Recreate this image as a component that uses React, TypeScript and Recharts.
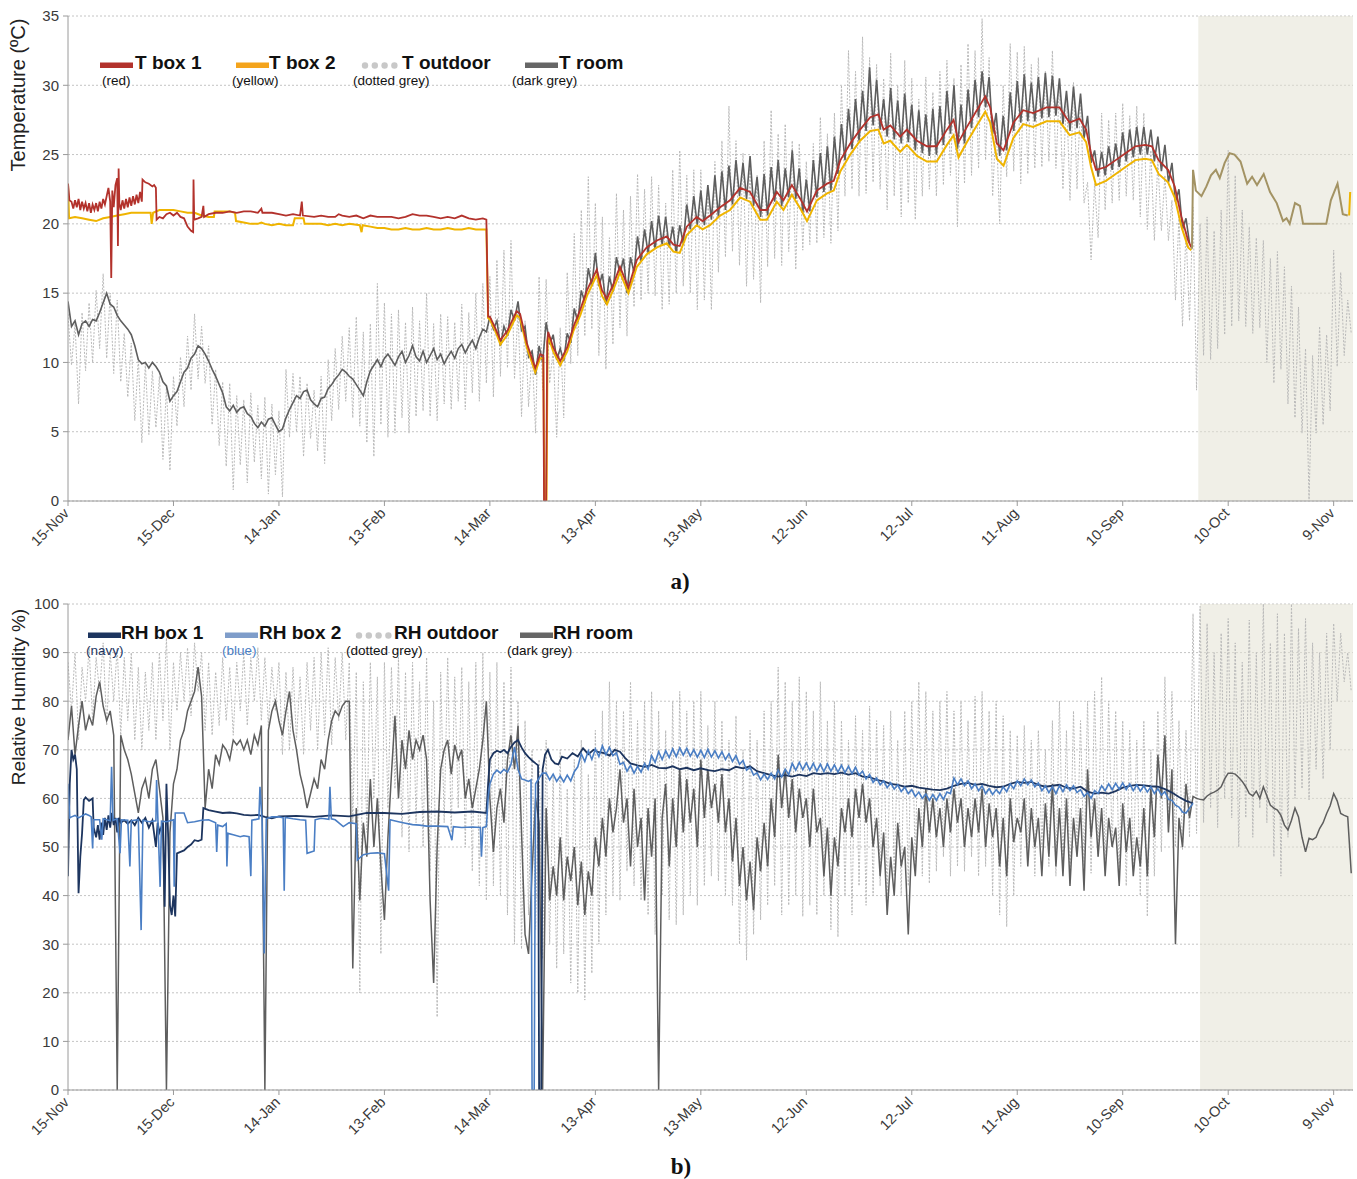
import React from 'react';
import { ComposedChart, Line, Area, XAxis, YAxis, CartesianGrid } from 'recharts';

const FONT = '"Liberation Sans", Arial, sans-serif';

// ---------- axes ----------
const xTickDays = [0, 30, 60, 90, 120, 150, 180, 210, 240, 270, 300, 330, 360];
const xTickLabels = ['15-Nov', '15-Dec', '14-Jan', '13-Feb', '14-Mar', '13-Apr', '13-May', '12-Jun', '12-Jul', '11-Aug', '10-Sep', '10-Oct', '9-Nov'];
const tTicks = [0, 5, 10, 15, 20, 25, 30, 35];
const rhTicks = [0, 10, 20, 30, 40, 50, 60, 70, 80, 90, 100];
const shadedStartT = 321.5;
const shadedStartRH = 322;
const lastDay = 365.5;

// ---------- temperature (days since 15-Nov) ----------
// T outdoor, one value per day starting day 0
const tOutdoor = [
  13.5, 9.8, 12.8, 7.0, 13.6, 9.4, 14.3, 10.0, 15.2, 11.0,
  16.4, 10.3, 15.0, 9.2, 14.5, 8.6, 12.1, 7.5, 11.4, 5.8,
  10.3, 4.2, 9.9, 4.8, 9.4, 5.3, 9.0, 3.0, 8.2, 2.2,
  9.0, 5.4, 10.4, 6.8, 11.9, 8.0, 13.5, 8.8, 12.6, 8.5,
  11.2, 5.5, 9.5, 4.0, 8.6, 2.5, 8.5, 0.8, 7.6, 2.6,
  7.3, 1.3, 7.8, 2.8, 6.9, 1.6, 7.5, 0.5, 7.0, 1.9,
  6.5, 0.3, 9.5, 4.6, 9.2, 5.0, 9.0, 3.2, 8.5, 4.5,
  8.0, 3.6, 9.0, 2.7, 10.2, 5.8, 11.0, 6.6, 11.9, 7.2,
  12.5, 6.0, 13.3, 5.4, 12.2, 4.2, 12.8, 3.2, 15.7, 5.5,
  14.3, 4.6, 13.5, 4.9, 13.8, 6.0, 12.9, 4.9, 14.0, 6.1,
  13.0, 6.5, 15.0, 6.1, 12.8, 5.8, 13.5, 7.0, 13.3, 6.6,
  12.9, 7.2, 14.2, 6.6, 13.6, 7.8, 15.0, 7.2, 15.7, 8.5,
  16.2, 7.5, 17.4, 9.0, 18.1, 9.6, 18.8, 8.8, 13.8, 6.1,
  13.0, 6.8, 10.9, 4.9, 16.2, 8.0, 16.0, 8.5, 10.9, 4.6,
  12.5, 6.0, 16.5, 9.9, 19.3, 10.5, 21.0, 11.9, 23.4, 12.4,
  21.5, 10.5, 20.5, 9.5, 19.0, 11.3, 22.2, 12.5, 21.0, 11.9,
  22.0, 14.0, 23.6, 14.5, 22.5, 15.0, 23.4, 14.8, 22.8, 13.8,
  21.5, 14.2, 23.9, 15.0, 25.3, 15.5, 23.5, 15.0, 23.9, 13.8,
  23.9, 14.5, 22.8, 13.8, 24.5, 16.5, 26.0, 17.6, 28.5, 18.0,
  26.0, 17.0, 25.1, 15.5, 24.0, 16.0, 23.5, 14.3, 26.0, 16.9,
  28.2, 17.5, 26.5, 17.0, 27.2, 18.0, 26.0, 16.7, 25.8, 18.1,
  24.5, 18.5, 25.8, 18.6, 27.7, 19.0, 26.5, 18.6, 28.0, 19.5,
  30.0, 22.0, 32.5, 22.5, 31.0, 22.0, 33.5, 22.2, 32.0, 23.0,
  31.5, 22.5, 30.5, 21.0, 32.3, 22.0, 30.0, 20.5, 31.8, 21.5,
  30.5, 20.3, 29.0, 22.0, 30.6, 22.5, 29.5, 22.0, 31.0, 22.8,
  31.8, 23.5, 30.5, 19.8, 31.5, 22.9, 33.0, 23.5, 32.5, 24.0,
  34.8, 24.6, 32.0, 22.0, 27.5, 20.0, 30.0, 23.4, 33.0, 23.8,
  32.4, 22.9, 32.8, 23.6, 31.5, 24.0, 32.0, 24.1, 31.0, 24.5,
  32.5, 24.0, 30.0, 22.5, 29.5, 21.7, 30.2, 22.5, 29.0, 21.5,
  23.0, 17.4, 22.9, 19.0, 28.0, 21.0, 27.5, 21.5, 28.0, 21.7,
  28.7, 22.0, 27.8, 21.7, 28.5, 20.5, 28.0, 19.6, 25.3, 18.8,
  24.5, 19.5, 23.5, 18.8, 21.7, 14.5, 20.5, 12.6, 19.5, 13.0,
  21.2, 8.0, 20.0, 10.5, 20.5, 10.2, 19.5, 11.0, 21.0, 12.0,
  25.3, 12.6, 23.5, 13.0, 21.0, 12.6, 19.8, 12.1, 19.0, 12.5,
  18.8, 10.0, 17.5, 8.5, 18.0, 9.5, 16.9, 7.0, 15.5, 6.0,
  14.0, 4.9, 11.0, 0.1, 10.5, 4.9, 12.6, 5.5, 12.0, 6.5,
  18.1, 9.7, 16.5, 10.5, 14.5, 12.1,
];

// T room, one value per day starting day 0
const tRoom = [
  14.4, 12.6, 13.0, 12.0, 12.8, 13.0, 12.6, 13.1, 13.0, 13.6,
  14.3, 15.0, 14.2, 14.0, 13.4, 13.0, 12.7, 12.4, 12.0, 11.2,
  10.2, 9.9, 10.0, 9.6, 10.0, 9.7, 9.3, 8.6, 8.3, 7.2,
  7.6, 7.9, 8.6, 9.3, 9.6, 10.3, 10.6, 11.2, 11.0, 10.6,
  10.1, 9.5, 9.0, 8.4, 7.8, 6.8, 6.5, 6.9, 6.4, 6.7,
  6.8, 6.3, 6.1, 5.6, 5.3, 5.7, 5.4, 5.9, 6.0, 5.5,
  5.0, 5.2, 6.0, 6.6, 7.1, 7.6, 7.4, 7.9, 8.0, 7.3,
  7.0, 6.8, 7.4, 7.5, 8.1, 8.4, 8.8, 9.1, 9.5, 9.3,
  9.0, 8.8, 8.4, 8.0, 7.6, 8.6, 9.4, 9.8, 10.2, 9.7,
  10.3, 10.6, 10.2, 9.8, 10.4, 10.8, 10.0, 10.5, 11.2, 10.4,
  10.1, 10.8, 10.0, 10.5, 11.0, 10.2, 10.6, 9.9, 10.4, 10.8,
  10.3, 11.0, 11.3, 10.7, 11.2, 11.6, 11.0, 11.8, 12.4, 12.2,
  13.3, 12.4, 13.0, 11.2, 12.6, 11.9, 13.8, 13.0, 14.4, 12.3,
  12.6, 10.4, 10.8, 9.1, 11.2, 10.0, 12.9, 11.3, 12.0, 10.2,
  11.0, 10.1, 12.1, 11.4, 13.9, 12.9, 15.2, 14.3, 16.8, 15.5,
  17.9, 15.5, 16.4, 14.2, 16.2, 15.1, 17.6, 16.4, 17.5, 15.0,
  17.6, 16.5, 19.1, 17.3, 19.6, 17.9, 20.2, 18.2, 20.6, 18.5,
  20.5, 18.3, 19.8, 17.9, 19.9, 18.6, 21.4, 19.6, 22.0, 19.9,
  22.4, 19.9, 22.8, 20.3, 23.5, 20.5, 23.8, 21.0, 24.2, 21.4,
  24.6, 22.0, 24.4, 21.8, 24.9, 21.3, 23.4, 20.5, 23.6, 20.6,
  24.1, 21.6, 24.6, 21.3, 24.0, 21.9, 25.3, 21.8, 24.0, 20.8,
  23.2, 20.9, 24.6, 21.9, 25.1, 22.3, 25.6, 22.4, 26.3, 23.6,
  27.2, 24.6, 28.3, 25.4, 29.0, 26.0, 29.6, 26.7, 31.3, 27.1,
  30.4, 26.8, 29.0, 26.3, 29.8, 26.1, 28.9, 25.8, 29.4, 25.9,
  28.6, 25.3, 28.2, 25.1, 27.9, 24.9, 28.3, 25.0, 28.5, 25.7,
  29.6, 26.5, 30.0, 25.4, 28.6, 25.8, 29.7, 26.9, 30.4, 27.7,
  31.0, 28.4, 30.6, 26.5, 28.0, 24.9, 27.8, 25.3, 29.5, 26.7,
  30.3, 27.3, 30.8, 27.4, 30.2, 27.4, 30.6, 27.6, 30.9, 27.7,
  30.7, 27.8, 30.5, 27.2, 29.6, 26.7, 29.9, 26.9, 29.4, 26.2,
  27.8, 24.4, 25.3, 23.4, 25.2, 23.5, 25.6, 23.9, 25.8, 24.1,
  26.6, 24.5, 26.8, 24.8, 27.0, 25.0, 27.0, 25.0, 26.8, 24.5,
  26.3, 23.8, 25.7, 23.0, 24.4, 21.6, 22.5, 19.6, 20.4, 18.6,
];

// T box 1 (red): [day, °C]
const tBox1 = [
  [0, 22.9], [0.4, 21.7], [1, 21.6], [1.5, 21.1], [2, 21.7], [2.5, 21.2], [3, 21.8], [3.5, 21.0], [4, 21.6], [4.5, 21.1],
  [5, 21.5], [5.5, 20.9], [6, 21.5], [6.5, 20.8], [7, 21.4], [7.5, 21.0], [8, 21.5], [8.5, 20.9], [9, 21.6], [9.5, 21.1],
  [10, 21.8], [10.5, 21.4], [11, 22.0], [11.5, 22.6], [12, 21.6], [12.3, 16.1], [12.6, 22.4], [13, 21.2], [13.5, 22.8],
  [14, 23.3], [14.2, 18.4], [14.4, 24.0], [14.6, 21.5], [15, 21.0], [15.5, 21.7], [16, 21.1], [16.5, 21.8], [17, 21.2],
  [17.5, 21.9], [18, 21.3], [18.5, 22.0], [19, 21.4], [19.5, 22.1], [20, 21.5], [20.5, 22.3], [21, 21.6], [21.2, 23.2],
  [22, 23.0], [23, 22.9], [24, 22.7], [24.5, 22.8], [25, 22.6], [25.2, 20.3], [26, 20.5], [27, 20.4], [28, 20.7],
  [29, 20.8], [30, 20.6], [31, 20.8], [32, 20.5], [33, 20.4], [34, 19.8], [35, 19.5], [35.6, 19.4], [35.7, 23.2],
  [35.9, 20.3], [37, 20.4], [38, 20.5], [38.5, 21.3], [38.7, 20.5], [40, 20.7], [42, 20.8], [44, 20.8], [46, 20.9],
  [48, 20.8], [50, 20.9], [52, 20.9], [54, 20.8], [55, 21.1], [55.3, 20.8], [58, 20.8], [60, 20.7], [62, 20.6],
  [64, 20.7], [66, 20.6], [66.5, 21.6], [66.8, 20.6], [70, 20.5], [72, 20.6], [74, 20.5], [76, 20.5], [77, 20.7],
  [78, 20.6], [80, 20.5], [82, 20.6], [84, 20.4], [86, 20.6], [88, 20.5], [90, 20.5], [92, 20.5], [94, 20.4],
  [96, 20.5], [98, 20.7], [100, 20.6], [102, 20.6], [104, 20.5], [106, 20.4], [108, 20.5], [110, 20.4], [112, 20.6],
  [114, 20.4], [116, 20.3], [118, 20.4], [119, 20.3], [119.5, 13.3],
  [120, 13.3], [121.5, 12.5], [123, 11.6], [125, 12.3], [127.6, 13.7], [128.6, 13.5], [130.5, 11.4], [132.9, 9.6],
  [134.3, 10.6], [135.2, 10.5], [135.4, 0], [136, 0], [136.3, 11.5], [136.6, 12.2], [138, 11.1], [140, 10.1],
  [142, 11.1], [143.8, 12.6], [145.7, 13.8], [147.6, 15.2], [150.4, 16.7], [151.9, 15.2], [153.3, 14.6], [155.2, 15.7],
  [157, 16.9], [159.4, 15.4], [161.8, 17.4], [164.6, 18.3], [167.5, 18.8], [170.3, 19.1], [172.2, 18.5], [174, 18.4],
  [176, 19.8], [178.8, 20.5], [180.5, 20.2], [182.6, 20.6], [185.5, 21.2], [188.3, 21.7], [191.2, 22.6], [194, 22.3],
  [196.9, 21.0], [198.8, 21.0], [201.6, 22.3], [203.5, 21.7], [205.9, 22.8], [208.3, 21.8], [210.2, 20.9], [213, 22.4],
  [215.9, 22.9], [217.8, 23.1], [219.7, 24.6], [222.5, 25.8], [225.3, 26.8], [228.2, 27.7], [230.5, 27.9], [232, 26.8],
  [233.9, 27.1], [236.7, 26.3], [238.6, 26.8], [241.5, 26.0], [244.3, 25.6], [247.1, 25.6], [250, 26.8], [251.9, 27.5],
  [253.3, 25.9], [255.7, 27.0], [258.5, 28.2], [260.9, 29.2], [262.3, 28.4], [264.2, 25.8], [266.1, 25.3], [268.9, 27.3],
  [271.7, 28.2], [274.5, 28.0], [278.3, 28.4], [282, 28.4], [284.9, 27.3], [287.7, 27.6], [289.6, 26.8], [291, 25.1],
  [292.4, 23.9], [295.2, 24.1], [298, 24.6], [300.8, 25.1], [303.6, 25.6], [306.4, 25.7], [308.3, 25.6], [310.2, 24.6],
  [312.9, 23.9], [314.8, 22.7], [316.7, 20.5], [318.6, 18.8], [319.5, 18.3],
];

// T box 2 (yellow): [day, °C]
const tBox2 = [
  [0, 22.9], [0.3, 20.4], [2, 20.5], [4, 20.4], [6, 20.3], [8, 20.2], [10, 20.4], [12, 20.5], [14, 20.6], [16, 20.7],
  [18, 20.8], [20, 20.8], [22, 20.8], [23.5, 20.8], [23.8, 20.0], [24.2, 20.8], [26, 21.0], [28, 21.0], [30, 21.0],
  [32, 20.9], [34, 20.8], [36, 20.8], [38, 20.6], [40, 20.5], [41.5, 20.5], [41.7, 20.9], [44, 20.9], [46, 20.9],
  [47.5, 20.8], [47.8, 20.2], [50, 20.1], [52, 20.0], [54, 20.0], [55, 20.1], [56, 20.0], [58, 19.9], [60, 20.0],
  [62, 19.9], [64, 19.9], [64.5, 20.4], [66, 20.4], [67, 20.4], [67.3, 20.0], [70, 20.0], [72, 20.0], [74, 19.9],
  [76, 20.0], [78, 19.9], [80, 20.0], [83, 19.9], [83.5, 19.4], [83.8, 19.9], [86, 19.8], [88, 19.7], [90, 19.7],
  [92, 19.6], [94, 19.6], [96, 19.7], [98, 19.6], [100, 19.6], [102, 19.7], [104, 19.6], [106, 19.6], [108, 19.7],
  [110, 19.6], [112, 19.6], [114, 19.7], [116, 19.6], [118, 19.6], [119, 19.6], [119.5, 13.2],
  [120, 13.1], [121.5, 12.3], [123, 11.3], [125, 12.0], [127.6, 13.4], [128.6, 13.2], [130.5, 11.1], [132.9, 9.3],
  [134.3, 10.3], [135.2, 10.3], [135.5, 0], [136.1, 0], [136.4, 11.3], [136.6, 11.9], [138, 10.8], [140, 9.8],
  [142, 10.8], [143.8, 12.3], [145.7, 13.4], [147.6, 14.8], [150.4, 16.3], [151.9, 14.8], [153.3, 14.2], [155.2, 15.3],
  [157, 16.5], [159.4, 15.0], [161.8, 16.9], [164.6, 17.8], [167.5, 18.3], [170.3, 18.6], [172.2, 18.0], [174, 17.9],
  [176, 19.2], [178.8, 19.9], [180.5, 19.6], [182.6, 19.9], [185.5, 20.6], [188.3, 21.0], [191.2, 21.9], [194, 21.6],
  [196.9, 20.3], [198.8, 20.3], [201.6, 21.6], [203.5, 21.0], [205.9, 22.1], [208.3, 21.1], [210.2, 20.2], [213, 21.7],
  [215.9, 22.2], [217.8, 22.4], [219.7, 23.8], [222.5, 25.0], [225.3, 26.0], [228.2, 26.7], [230.5, 26.8], [232, 25.8],
  [233.9, 26.0], [236.7, 25.2], [238.6, 25.7], [241.5, 24.9], [244.3, 24.5], [247.1, 24.5], [250, 25.7], [251.9, 26.4],
  [253.3, 24.8], [255.7, 25.9], [258.5, 27.1], [260.9, 28.1], [262.3, 27.3], [264.2, 24.7], [266.1, 24.2], [268.9, 26.2],
  [271.7, 27.2], [274.5, 27.0], [278.3, 27.4], [282, 27.4], [284.9, 26.4], [287.7, 26.6], [289.6, 25.9], [291, 24.1],
  [292.4, 22.8], [295.2, 23.1], [298, 23.6], [300.8, 24.1], [303.6, 24.6], [306.4, 24.7], [308.3, 24.6], [310.2, 23.6],
  [312.9, 23.0], [314.8, 21.9], [316.7, 19.8], [318.6, 18.3], [319.5, 18.1], [319.6, null], [364.4, 20.6], [364.7, 22.3],
];

// T boxes during the shaded period (olive trace): [day, °C]
const tShaded = [
  [319.7, 18.2], [320, 23.9], [320.8, 22.4], [322.4, 22.0], [323.8, 22.7], [325.1, 23.5], [326.5, 23.9], [327.6, 23.3],
  [329, 24.4], [330.4, 25.1], [331.8, 25.0], [333.5, 24.5], [335.4, 22.9], [336.8, 23.4], [338.2, 22.8], [340.1, 23.6],
  [341.9, 22.3], [343.8, 21.5], [345.6, 20.2], [346.6, 20.4], [347.5, 20.0], [349, 21.5], [350.4, 21.3], [351.3, 20.0],
  [357.9, 20.0], [359.2, 21.7], [361.1, 22.9], [362.6, 20.7], [364, 20.6],
];

// ---------- relative humidity ----------
const rhOutdoor = [
  88, 78, 90, 72, 87, 80, 91, 76, 89, 82,
  92, 75, 90, 80, 91, 73, 89, 76, 90, 72,
  87, 70, 86, 74, 88, 72, 90, 76, 93, 70,
  88, 78, 90, 80, 91, 77, 92, 82, 90, 74,
  88, 73, 86, 75, 89, 76, 87, 73, 88, 78,
  90, 75, 89, 80, 91, 76, 89, 75, 87, 78,
  88, 69, 86, 70, 87, 72, 85, 69, 88, 74,
  89, 70, 90, 73, 91, 71, 89, 76, 90, 72,
  88, 55, 86, 20, 84, 53, 88, 60, 85, 28,
  88, 58, 87, 62, 89, 52, 86, 49, 88, 55,
  84, 50, 89, 45, 80, 15, 86, 55, 89, 53,
  85, 58, 87, 50, 84, 45, 88, 42, 90, 39,
  86, 42, 88, 40, 84, 36, 87, 30, 80, 29,
  76, 36, 70, 33, 68, 27, 72, 30, 65, 25,
  70, 28, 62, 22, 68, 20, 72, 18.5, 65, 24,
  74, 30, 78, 36, 84, 40, 80, 39, 78, 45,
  84, 42, 76, 39, 80, 36, 82, 32, 78, 40,
  74, 35, 80, 34, 82, 36, 78, 40, 80, 38,
  82, 42, 75, 44, 80, 43, 76, 40, 72, 38,
  77, 30, 70, 26.7, 74, 32, 72, 35, 78, 38,
  80, 42, 87, 36, 84, 38, 80, 40, 85, 35.7,
  82, 38, 78, 36, 84, 40, 76, 33, 80, 31.5,
  76, 40, 72, 36, 77, 42, 74, 38, 79, 40,
  76, 42, 75, 39, 78, 44, 72, 40, 78, 42,
  80, 46, 84, 44, 82, 42.5, 78, 45, 80, 48,
  82, 44, 78, 46, 80, 45, 76, 48, 81, 44,
  82, 46, 78, 40, 80, 36, 77, 33.6, 74, 40,
  73, 46, 75, 48, 72, 44, 74, 50, 70, 46,
  76, 44, 80, 46, 74, 42.5, 78, 48, 76, 46,
  80, 44.6, 82, 48, 85, 46, 80, 50, 78, 45,
  76, 42, 74, 46, 72, 40, 76, 35.7, 70, 44,
  78, 49, 85, 56, 82, 50, 76, 49.4, 74, 52,
  98, 52.8, 99.5, 55, 96, 58, 90, 54, 94, 60,
  97, 56, 92, 50, 88, 56, 96.7, 52, 90, 58,
  100, 55, 92, 48, 98, 44, 94, 52, 100, 60,
  95, 62, 97, 59.7, 92, 66, 90, 64, 94, 70,
  96, 80, 94, 84, 90, 82,
];

const rhRoom = [
  72, 79, 69, 75, 80, 74, 77, 75, 81, 84,
  79, 76, 78, 73, 0, 73, 70, 68, 65, 61,
  57, 62, 64, 60, 66, 68, 62, 56, 0, 53,
  63, 66, 72, 74, 78, 80, 82, 87, 81, 58,
  66, 62, 69, 67, 71, 70, 68, 72, 71, 72,
  70, 72, 69, 73, 71, 75, 0, 74, 78, 80,
  76, 73, 78, 82, 74, 70, 65, 62, 58, 61,
  64, 62, 68, 66, 72, 76, 78, 77, 79, 80,
  80, 25, 58, 39, 55, 48, 64, 50, 60, 46,
  35, 52, 65, 77, 60, 72, 66, 74, 68, 72,
  70, 73, 68, 39, 22, 50, 66, 70, 72, 65,
  71, 68, 70, 60, 64, 58, 62, 66, 72, 80,
  60, 49, 58, 62, 55, 68, 73, 66, 75, 53,
  32, 28, 45, 60, 55, 0, 58, 39, 46, 40,
  52, 39, 48, 43, 50, 38, 47, 36, 45, 40,
  52, 46, 56, 48, 60, 53, 58, 66, 55, 60,
  46, 62, 50, 56, 39, 58, 48, 60, 0, 56,
  63, 46, 60, 50, 66, 53, 64, 55, 62, 50,
  68, 56, 66, 58, 63, 55, 65, 53, 60, 47,
  56, 42, 50, 39, 47, 37, 52, 45, 55, 46,
  60, 52, 69, 58, 66, 56, 64, 53, 62, 56,
  60, 50, 62, 53, 56, 44, 54, 40, 52, 46,
  58, 53, 60, 52, 62, 56, 63, 55, 60, 50,
  56, 44, 53, 36, 48, 40, 55, 46, 50, 32,
  52, 44, 58, 50, 62, 53, 60, 52, 58, 50,
  60, 53, 62, 55, 60, 50, 58, 52, 60, 53,
  62, 50, 59, 52, 58, 46, 56, 44, 60, 51,
  56, 53, 60, 46, 58, 50, 56, 44, 59, 48,
  63, 46, 58, 44, 60, 42, 56, 48, 58, 41,
  66, 52, 60, 48, 58, 44, 56, 50, 54, 42,
  59, 49, 56, 44, 52, 46, 58, 44, 62, 52,
  69, 60, 73, 53, 66, 30, 56, 50, 63, 56,
  60.4, 60, 59.8, 59.7, 60.5, 61, 61.3, 61.7, 62.4, 64,
  65.2, 65.2, 65, 64.3, 63.5, 62.4, 61, 60.5, 61.5, 60,
  62.4, 60.5, 58.6, 58, 57.6, 56.5, 54.5, 53.5, 55.5, 58,
  56.2, 52, 49, 51.8, 51.5, 52, 53.8, 55, 56.9, 58.5,
  61, 59.5, 56.9, 56.5, 56.2, 44.6,
];

// RH box 1 (navy): [day, %]
const rhBox1 = [
  [0, 44], [0.5, 63], [1, 70], [1.5, 68], [2, 69], [2.5, 66], [3, 40.5], [3.5, 48], [4, 52.8], [4.5, 59.7],
  [5, 60.2], [6, 59.5], [7, 60], [7.3, 54], [8, 52], [8.5, 54.5], [9, 51.5], [9.5, 55], [10, 52.5], [10.5, 56],
  [11, 53.5], [11.5, 56.5], [12, 54], [12.5, 57], [13, 54.5], [13.5, 56], [14, 53], [14.5, 56], [15, 55], [16, 55.5],
  [17, 54.8], [18, 55.5], [19, 54.5], [20, 56], [21, 55], [22, 56], [23, 54], [24, 55.5], [25, 50], [25.5, 55],
  [26, 53], [27, 55], [27.5, 37.7], [28, 63], [28.5, 52], [29, 38], [29.5, 36], [30, 40], [30.5, 35.7], [31, 48.7],
  [32, 49], [33, 49.3], [34, 50], [35, 50.5], [36, 51.4], [37, 51.2], [38, 51.5], [38.5, 58], [40, 57.6], [42, 57.3],
  [44, 57], [46, 57.1], [48, 56.9], [50, 56.6], [52, 56.5], [54, 56.6], [56, 56.2], [58, 55.9], [60, 56.3], [65, 56.4],
  [70, 56.2], [75, 56.5], [80, 56.3], [85, 57], [90, 57], [95, 56.8], [100, 57.2], [105, 57.3], [110, 57.1], [115, 57.3],
  [119, 57], [119.5, 63], [120, 68], [121, 69.3], [122, 69.8], [123, 69.5], [124, 70], [125, 69.3], [126, 70.6],
  [127, 71.5], [128, 72], [129, 70.5], [130, 69.3], [131, 68.5], [132, 67.8], [133, 67.2], [133.7, 66.8], [134, 0],
  [134.6, 0], [135, 66], [135.7, 69], [136.5, 70], [137.5, 68], [138.5, 67.2], [139.5, 67], [140.5, 68.6], [142, 68.2],
  [143.5, 69.3], [145, 68.6], [146.5, 70.3], [148, 69.1], [149.5, 70], [151, 69.5], [152.5, 69.3], [154, 68.8],
  [155.5, 70], [157, 69.6], [158.5, 68.3], [160, 67.2], [162, 66.8], [164, 66.5], [166, 66.9], [168, 66.3], [170, 66.2],
  [172, 66.6], [174, 66], [176, 66.3], [178, 65.8], [180, 66.2], [182, 65.8], [184, 65.6], [186, 66], [188, 65.8],
  [190, 66.5], [192, 66.2], [194, 66.6], [196, 65.6], [198, 65.2], [200, 64.8], [202, 64.5], [204, 64.8], [206, 64.5],
  [208, 64.9], [210, 64.6], [212, 65.2], [214, 65], [216, 65.2], [218, 65], [220, 65.3], [222, 64.9], [224, 65.2],
  [226, 64.5], [228, 64.4], [230, 63.8], [232, 63.5], [234, 63], [236, 62.8], [238, 62.4], [240, 62.6], [242, 62.2],
  [244, 62], [246, 61.8], [248, 61.7], [250, 62], [252, 62.6], [254, 63], [256, 63.2], [258, 62.8], [260, 63],
  [262, 62.6], [264, 62.3], [266, 62.4], [268, 63], [270, 63.4], [272, 63.2], [274, 63.4], [276, 62.8], [278, 62.4],
  [280, 62.6], [282, 62.8], [284, 62.2], [286, 62], [288, 62.4], [290, 61.4], [292, 61], [294, 61.2], [296, 61],
  [298, 61.5], [300, 62.2], [302, 62.6], [304, 62.8], [306, 62.7], [308, 62.5], [310, 62.4], [312, 61.9], [314, 61.2],
  [316, 60.3], [318, 59.5], [320, 59],
];

// RH box 2 (blue) until day 135: [day, %]
const rhBox2Early = [
  [0, 63], [0.5, 56], [1, 56.2], [2, 56.5], [3, 56], [4, 56.4], [5, 56.8], [6, 56.5], [6.6, 56.2], [7, 49.7],
  [7.3, 55.6], [9, 55.6], [9.6, 51.5], [10, 55.8], [12, 55.4], [12.4, 66.5], [12.8, 55.5], [14, 55.8], [14.8, 48.7],
  [15.2, 55.6], [17, 55.5], [17.6, 46], [18, 55.4], [20, 55.6], [20.8, 32.9], [21.3, 55.5], [23, 55.2], [25, 55.4],
  [25.2, 63.8], [25.6, 55], [26.2, 41.8], [26.6, 55.3], [28, 55.2], [30, 55.6], [30.2, 41.8], [30.5, 57], [33, 57],
  [34, 55], [36, 55.2], [38, 55.5], [40, 55.6], [42, 55], [42.3, 49], [42.6, 54.5], [44, 54.2], [45, 54.8], [45.2, 46],
  [45.5, 52.8], [47, 52.5], [49, 52.1], [50, 52.3], [51.5, 52.1], [52, 44], [52.3, 55.5], [54.3, 55.8], [54.6, 62.4],
  [55.2, 55.5], [55.8, 28.1], [56.4, 55.8], [58, 56.2], [60, 56.2], [61.2, 56], [61.5, 41], [61.8, 56.1], [64, 55.8],
  [66, 55.6], [67.6, 55.5], [68, 48.7], [70, 49.2], [70.3, 55.6], [72, 55.9], [74.2, 55.7], [74.5, 62.4], [74.9, 55.8],
  [76, 55.6], [78.3, 54.2], [80, 55], [82, 54.8], [82.3, 47.3], [84, 48.4], [86, 48.7], [88, 48.8], [90, 48.6],
  [91.2, 41], [91.6, 55.6], [94, 55.2], [96, 54.9], [98, 54.6], [100, 54.5], [102, 54.3], [105, 54.3], [108, 54.2],
  [109.2, 51.4], [109.6, 54.2], [112, 54], [115, 54.1], [117.3, 54], [117.6, 48], [118, 54], [119, 54.2], [119.5, 60],
  [120, 63], [121, 65], [122, 65.8], [123, 65.2], [124, 66], [125, 65.4], [126, 67], [127, 70.6], [128, 66], [129, 64],
  [130, 63.8], [131, 63.5], [131.7, 63.8], [132, 0], [132.6, 0], [133, 63], [134, 64.2], [135, 65.2],
];
// RH box 2 (blue) one value per day from day 136
const rhBox2LateStart = 136;
const rhBox2Late = [
  65.2, 63.8, 65.0, 63.5, 64.6, 63.4, 64.8, 63.6, 65.5, 66.5,
  69.2, 67.6, 69.8, 68.0, 70.2, 68.6, 70.8, 69.0, 70.5, 68.8,
  69.4, 67.0, 67.4, 65.6, 66.8, 65.2, 66.6, 65.4, 67.2, 66.0,
  68.8, 67.4, 69.6, 68.0, 69.8, 68.4, 70.2, 68.6, 70.4, 68.9,
  70.3, 68.7, 70.0, 68.5, 69.9, 68.4, 70.1, 68.5, 69.8, 68.3,
  69.6, 68.0, 69.2, 67.6, 68.8, 67.0, 67.8, 65.8, 66.4, 64.8,
  65.3, 63.8, 65.0, 63.9, 65.2, 64.0, 65.8, 64.4, 66.0, 64.9,
  67.2, 65.8, 67.4, 65.9, 67.3, 65.8, 67.2, 65.6, 67.0, 65.5,
  67.1, 65.6, 66.9, 65.4, 66.8, 65.3, 66.6, 65.1, 66.4, 64.8,
  65.6, 64.0, 64.9, 63.3, 64.2, 62.8, 63.6, 62.2, 63.2, 61.9,
  62.8, 61.4, 62.3, 61.0, 61.8, 60.4, 61.3, 60.0, 60.9, 59.6,
  60.8, 59.6, 61.0, 59.8, 61.3, 61.0, 64.2, 62.8, 64.0, 62.6,
  63.6, 62.0, 63.0, 61.6, 62.6, 61.0, 62.0, 60.8, 61.8, 61.0,
  62.4, 61.4, 63.0, 62.0, 63.6, 62.6, 64.0, 62.8, 63.8, 62.4,
  63.2, 61.6, 62.6, 61.2, 62.4, 61.0, 62.6, 61.4, 62.8, 61.6,
  62.6, 61.2, 61.8, 60.4, 61.2, 60.0, 61.6, 61.0, 62.6, 61.6,
  63.0, 61.8, 63.1, 61.9, 63.2, 61.8, 63.0, 61.6, 62.8, 61.5,
  62.6, 61.3, 62.4, 61.0, 62.0, 60.7, 61.4, 59.8, 59.6, 58.6,
  58.2, 57.2, 57.0, 58.0, 59.0,
];

// ---------- builders ----------
type Pt = { x: number; v: number | null };
const fromDaily = (start: number, vals: number[]): Pt[] => vals.map((v, i) => ({ x: start + i, v }));
const fromPairs = (pairs: (number | null)[][]): Pt[] => pairs.map(([x, v]) => ({ x: x as number, v }));

const tOutdoorData = fromDaily(0, tOutdoor);
const tRoomData = fromDaily(0, tRoom);
const tBox1Data = fromPairs(tBox1);
const tBox2Data = fromPairs(tBox2);
const tShadedData = fromPairs(tShaded);
const tShadeBand = [{ x: shadedStartT, v: 35 }, { x: lastDay, v: 35 }];

const rhOutdoorData = fromDaily(0, rhOutdoor);
const rhRoomData = fromDaily(0, rhRoom);
const rhBox1Data = fromPairs(rhBox1);
const rhBox2Data = [...fromPairs(rhBox2Early), ...fromDaily(rhBox2LateStart, rhBox2Late)];
const rhShadeBand = [{ x: shadedStartRH, v: 100 }, { x: lastDay, v: 100 }];

// ---------- styling ----------
const C = {
  red: '#b3322c',
  yellow: '#efb400',
  yellowLegend: '#f4a41c',
  olive: '#a39364',
  outdoor: '#b9b9b9',
  room: '#5e5e5e',
  navy: '#1d355f',
  blue: '#4a7ec4',
  blueLegend: '#7f9dca',
  grid: '#c4c4c4',
  axis: '#9a9a9a',
  tick: '#3a3a3a',
  shade: '#e4e1d4',
};

function XTick(props: any) {
  const { x, y, payload } = props;
  const i = xTickDays.indexOf(payload.value);
  const ax = x + 2;
  const ay = y + 6;
  return (
    <text x={ax} y={ay} textAnchor="end" transform={`rotate(-45 ${ax} ${ay})`} fontSize={14.5} fill={C.tick} fontFamily={FONT}>
      {xTickLabels[i]}
    </text>
  );
}

const commonX = (
  <XAxis
    dataKey="x"
    type="number"
    domain={[0, lastDay]}
    ticks={xTickDays}
    allowDataOverflow
    interval={0}
    height={50}
    stroke={C.axis}
    tickSize={5}
    tick={<XTick />}
  />
);

function TempChart() {
  return (
    <ComposedChart width={1357} height={560} margin={{ top: 16, right: 4, bottom: 9, left: 28 }}>
      <CartesianGrid vertical={false} stroke={C.grid} strokeDasharray="2 2" />
      {commonX}
      <YAxis
        type="number"
        domain={[0, 35]}
        ticks={tTicks}
        allowDataOverflow
        width={40}
        stroke={C.axis}
        tickSize={5}
        tickMargin={4}
        tick={{ fontSize: 15, fill: C.tick, fontFamily: FONT }}
      />
      <Area data={tShadeBand} dataKey="v" type="linear" stroke="none" fill={C.shade} fillOpacity={0.55} isAnimationActive={false} dot={false} activeDot={false} />
      <Line data={tOutdoorData} dataKey="v" type="linear" stroke={C.outdoor} strokeWidth={1} strokeDasharray="2 1.5" dot={false} activeDot={false} isAnimationActive={false} />
      <Line data={tRoomData} dataKey="v" type="linear" stroke={C.room} strokeWidth={1.6} dot={false} activeDot={false} isAnimationActive={false} />
      <Line data={tBox2Data} dataKey="v" type="linear" stroke={C.yellow} strokeWidth={2} dot={false} activeDot={false} isAnimationActive={false} />
      <Line data={tBox1Data} dataKey="v" type="linear" stroke={C.red} strokeWidth={1.8} dot={false} activeDot={false} isAnimationActive={false} />
      <Line data={tShadedData} dataKey="v" type="linear" stroke={C.olive} strokeWidth={2} dot={false} activeDot={false} isAnimationActive={false} />
    </ComposedChart>
  );
}

function RhChart() {
  return (
    <ComposedChart width={1357} height={589} margin={{ top: 14, right: 4, bottom: 39, left: 28 }}>
      <CartesianGrid vertical={false} stroke={C.grid} strokeDasharray="2 2" />
      {commonX}
      <YAxis
        type="number"
        domain={[0, 100]}
        ticks={rhTicks}
        allowDataOverflow
        width={40}
        stroke={C.axis}
        tickSize={5}
        tickMargin={4}
        tick={{ fontSize: 15, fill: C.tick, fontFamily: FONT }}
      />
      <Area data={rhShadeBand} dataKey="v" type="linear" stroke="none" fill={C.shade} fillOpacity={0.55} isAnimationActive={false} dot={false} activeDot={false} />
      <Line data={rhOutdoorData} dataKey="v" type="linear" stroke={C.outdoor} strokeWidth={1} strokeDasharray="2 1.5" dot={false} activeDot={false} isAnimationActive={false} />
      <Line data={rhRoomData} dataKey="v" type="linear" stroke={C.room} strokeWidth={1.5} dot={false} activeDot={false} isAnimationActive={false} />
      <Line data={rhBox1Data} dataKey="v" type="linear" stroke={C.navy} strokeWidth={1.8} dot={false} activeDot={false} isAnimationActive={false} />
      <Line data={rhBox2Data} dataKey="v" type="linear" stroke={C.blue} strokeWidth={1.6} dot={false} activeDot={false} isAnimationActive={false} />
    </ComposedChart>
  );
}

function LegendItem({ sx, tx, subx, y, kind, color, label, sub, subColor }: any) {
  return (
    <g>
      {kind === 'dots' ? (
        [0, 1, 2, 3].map((k) => <circle key={k} cx={sx + 4 + k * 9.8} cy={y - 3.5} r={3.2} fill={color} />)
      ) : (
        <rect x={sx} y={y - 6.5} width={33} height={5.5} fill={color} />
      )}
      <text x={tx} y={y} fontSize={19} fontWeight="bold" fill="#111" fontFamily={FONT}>{label}</text>
      <text x={subx} y={y + 16} fontSize={13.5} fill={subColor || '#111'} fontFamily={FONT}>{sub}</text>
    </g>
  );
}

function Overlay() {
  const serif = '"Liberation Serif", "Times New Roman", serif';
  return (
    <svg width={1357} height={1179} style={{ position: 'absolute', left: 0, top: 0, pointerEvents: 'none' }}>
      <text transform="translate(25 95) rotate(-90)" textAnchor="middle" fontSize={20} fill="#222" fontFamily={FONT}>Temperature (ºC)</text>
      <text transform="translate(25 697) rotate(-90)" textAnchor="middle" fontSize={19} fill="#222" fontFamily={FONT}>Relative Humidity %)</text>

      <LegendItem sx={100} tx={135} subx={102} y={69} color={C.red} label="T box 1" sub="(red)" />
      <LegendItem sx={236} tx={269} subx={232} y={69} color={C.yellowLegend} label="T box 2" sub="(yellow)" />
      <LegendItem sx={361} tx={402} subx={353} y={69} kind="dots" color="#c8c8c8" label="T outdoor" sub="(dotted grey)" />
      <LegendItem sx={525} tx={559} subx={512} y={69} color="#666666" label="T room" sub="(dark grey)" />

      <LegendItem sx={88} tx={121} subx={86} y={639} color={C.navy} label="RH box 1" sub="(navy)" subColor={C.navy} />
      <LegendItem sx={225} tx={259} subx={222} y={639} color={C.blueLegend} label="RH box 2" sub="(blue)" subColor={C.blue} />
      <LegendItem sx={355} tx={394} subx={346} y={639} kind="dots" color="#c8c8c8" label="RH outdoor" sub="(dotted grey)" />
      <LegendItem sx={520} tx={553} subx={507} y={639} color="#666666" label="RH room" sub="(dark grey)" />

      <text x={680} y={589} textAnchor="middle" fontSize={23} fontWeight="bold" fill="#111" fontFamily={serif}>a)</text>
      <text x={681} y={1174} textAnchor="middle" fontSize={23} fontWeight="bold" fill="#111" fontFamily={serif}>b)</text>
    </svg>
  );
}

export default function App() {
  return (
    <div style={{ position: 'relative', width: 1357, height: 1179, background: '#fff', fontFamily: FONT }}>
      <style>{'body{margin:0;background:#fff}'}</style>
      <div style={{ position: 'absolute', left: 0, top: 0 }}>
        <TempChart />
      </div>
      <div style={{ position: 'absolute', left: 0, top: 590 }}>
        <RhChart />
      </div>
      <Overlay />
    </div>
  );
}
